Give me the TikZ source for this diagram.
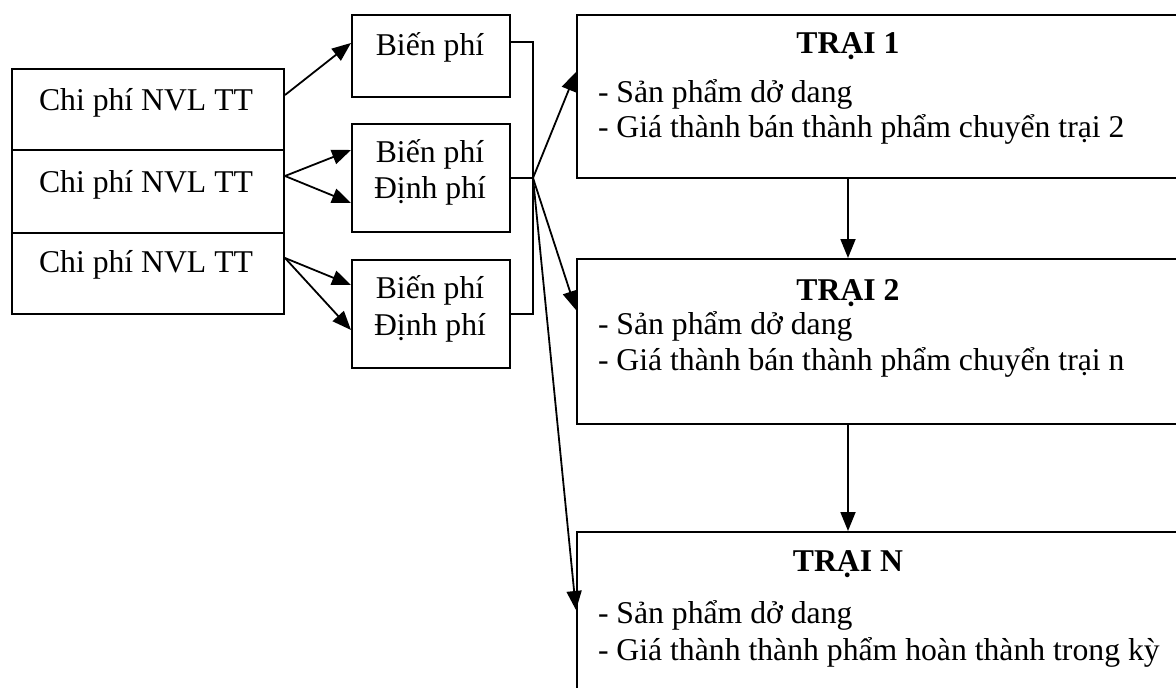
\documentclass[tikz,border=0pt]{standalone}
\usepackage{fontspec}
\setmainfont{Liberation Serif}
\usetikzlibrary{arrows.meta}
\begin{document}
\begin{tikzpicture}[x=1pt,y=-1pt,
  line width=2pt,
  frame/.style={draw,line width=2pt,inner sep=0pt,anchor=north west},
  txt/.style={anchor=base,inner sep=0pt,font=\fontsize{31.7}{37}\selectfont},
  ltxt/.style={anchor=base west,inner sep=0pt,font=\fontsize{31.7}{37}\selectfont},
  ttl/.style={anchor=base,inner sep=0pt,font=\fontsize{31.7}{37}\selectfont\bfseries},
  arr/.style={-{Triangle[length=19pt,width=15pt]},line width=1.8pt}]
\useasboundingbox (0,0) rectangle (1176,688);
\clip (0,0) rectangle (1176,688);
\fill[white] (0,0) rectangle (1176,688);

% cost sources (left column)
\node[frame,minimum width=272pt,minimum height=81pt] (l1) at (11,68) {};
\node[frame,minimum width=272pt,minimum height=83pt] (l2) at (11,149) {};
\node[frame,minimum width=272pt,minimum height=81pt] (l3) at (11,232) {};
\node[txt] (l1t) at (146,110) {Chi phí NVL TT};
\node[txt] (l2t) at (146,192) {Chi phí NVL TT};
\node[txt] (l3t) at (146,272) {Chi phí NVL TT};

% cost behaviour (middle column)
\node[frame,minimum width=158pt,minimum height=82pt] (m1) at (351,14) {};
\node[frame,minimum width=158pt,minimum height=108pt] (m2) at (351,123) {};
\node[frame,minimum width=158pt,minimum height=108pt] (m3) at (351,259) {};
\node[txt] (m1a) at (430,55) {Biến phí};
\node[txt] (m2a) at (430,162) {Biến phí};
\node[txt] (m2b) at (430,198) {Định phí};
\node[txt] (m3a) at (430,298) {Biến phí};
\node[txt] (m3b) at (430,335) {Định phí};

% farms (right column)
\node[frame,minimum width=700pt,minimum height=163pt] (t1) at (576,14) {};
\node[frame,minimum width=700pt,minimum height=165pt] (t2) at (576,258) {};
\node[frame,minimum width=700pt,minimum height=250pt] (tn) at (576,531) {};
\node[ttl] (t1h) at (848,53) {TRẠI 1};
\node[ltxt] (t1a) at (597,102) {- Sản phẩm dở dang};
\node[ltxt] (t1b) at (597,137) {- Giá thành bán thành phẩm chuyển trại 2};
\node[ttl] (t2h) at (848,300) {TRẠI 2};
\node[ltxt] (t2a) at (597,334) {- Sản phẩm dở dang};
\node[ltxt] (t2b) at (597,370) {- Giá thành bán thành phẩm chuyển trại n};
\node[ttl] (tnh) at (848,571) {TRẠI N};
\node[ltxt] (tna) at (597,623) {- Sản phẩm dở dang};
\node[ltxt] (tnb) at (597,660) {- Giá thành thành phẩm hoàn thành trong kỳ};

% sources to behaviour boxes
\draw[arr] ([yshift=-27pt]l1.north east) -- ([yshift=-29pt]m1.north west);
\draw[arr] ([yshift=-27pt]l2.north east) -- ([yshift=-27pt]m2.north west);
\draw[arr] ([yshift=-27pt]l2.north east) -- ([yshift=-80pt]m2.north west);
\draw[arr] ([yshift=-26pt]l3.north east) -- ([yshift=-26pt]m3.north west);
\draw[arr] ([yshift=-26pt]l3.north east) -- ([yshift=-71pt]m3.north west);

% collecting bracket
\coordinate (hub) at ([xshift=22pt]m2.east);
\coordinate (bustop) at ([xshift=22pt,yshift=-28pt]m1.north east);
\coordinate (busbot) at ([xshift=22pt]m3.east);
\draw ([yshift=-28pt]m1.north east) -- (bustop) -- (busbot) -- (m3.east);
\draw (m2.east) -- (hub);

% distribution to farms
\draw[arr] (hub) -- ([yshift=-58pt]t1.north west);
\draw[arr] (hub) -- ([yshift=-52pt]t2.north west);
\draw[arr] (hub) -- ([yshift=-79pt]tn.north west);

% transfer between farms
\draw[arr] ([xshift=272pt]t1.south west) -- ([xshift=272pt]t2.north west);
\draw[arr] ([xshift=272pt]t2.south west) -- ([xshift=272pt]tn.north west);
\end{tikzpicture}
\end{document}
